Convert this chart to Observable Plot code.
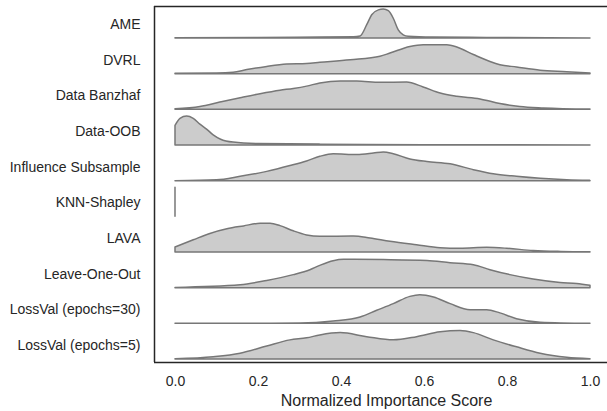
<!DOCTYPE html>
<html><head><meta charset="utf-8">
<script src="https://cdn.jsdelivr.net/npm/d3@7"></script>
<script src="https://cdn.jsdelivr.net/npm/@observablehq/plot@0.6"></script>
<style>body{margin:0;background:#fff} svg{display:block}</style>
</head><body><div id="chart"></div>
<script>
// Categories (top to bottom)
const names = ["AME","DVRL","Data Banzhaf","Data-OOB","Influence Subsample","KNN-Shapley","LAVA","Leave-One-Out","LossVal (epochs=30)","LossVal (epochs=5)"];
const xLabel = "Normalized Importance Score";

// Density curves (x = normalized importance score, d = density scaled to each ridge's max)
const ameX = [0, 0.2, 0.35, 0.43, 0.446, 0.462, 0.474, 0.49, 0.502, 0.514, 0.526, 0.538, 0.55, 0.562, 0.62, 0.75, 0.9, 1.0];
const ameD = [0.01, 0.02, 0.03, 0.04, 0.07, 0.46, 0.8, 0.97, 1.0, 0.94, 0.68, 0.28, 0.11, 0.06, 0.03, 0.02, 0.01, 0.0];

const dvrlX = [0, 0.1, 0.14, 0.173, 0.221, 0.269, 0.317, 0.349, 0.422, 0.494, 0.518, 0.566, 0.598, 0.655, 0.679, 0.719, 0.759, 0.783, 0.823, 0.88, 0.944, 1.0];
const dvrlD = [0.01, 0.02, 0.05, 0.14, 0.25, 0.33, 0.35, 0.39, 0.48, 0.60, 0.71, 0.94, 1.0, 1.0, 0.92, 0.66, 0.42, 0.31, 0.23, 0.12, 0.07, 0.02];

const banzX = [0, 0.06, 0.108, 0.157, 0.205, 0.253, 0.285, 0.317, 0.349, 0.398, 0.438, 0.494, 0.558, 0.598, 0.639, 0.679, 0.735, 0.783, 0.831, 0.888, 1.0];
const banzD = [0.02, 0.1, 0.25, 0.40, 0.54, 0.66, 0.72, 0.80, 0.91, 0.98, 0.98, 0.93, 0.94, 0.77, 0.56, 0.45, 0.36, 0.20, 0.10, 0.05, 0.01];

const oobX = [0, 0.012, 0.028, 0.044, 0.06, 0.076, 0.092, 0.11, 0.14, 0.2, 0.35, 0.6, 1.0];
const oobD = [0.68, 0.92, 1.0, 0.92, 0.72, 0.55, 0.35, 0.2, 0.1, 0.05, 0.03, 0.01, 0.0];

const inflX = [0, 0.1, 0.157, 0.221, 0.277, 0.317, 0.349, 0.381, 0.438, 0.478, 0.502, 0.526, 0.566, 0.607, 0.663, 0.719, 0.767, 0.823, 0.88, 0.944, 1.0];
const inflD = [0.0, 0.03, 0.15, 0.32, 0.52, 0.68, 0.84, 0.93, 0.90, 0.95, 0.99, 0.93, 0.75, 0.66, 0.58, 0.38, 0.24, 0.15, 0.08, 0.03, 0.01];

const knnX = [0, 0];
const knnD = [1, 1];

const lavaX = [0, 0.044, 0.084, 0.125, 0.165, 0.205, 0.229, 0.253, 0.285, 0.317, 0.349, 0.43, 0.47, 0.518, 0.582, 0.639, 0.687, 0.751, 0.799, 0.863, 0.93, 1.0];
const lavaD = [0.17, 0.42, 0.64, 0.80, 0.90, 0.99, 0.99, 0.91, 0.73, 0.59, 0.54, 0.55, 0.48, 0.37, 0.25, 0.15, 0.13, 0.16, 0.13, 0.05, 0.02, 0.01];

const looX = [0, 0.157, 0.221, 0.285, 0.325, 0.349, 0.381, 0.406, 0.502, 0.607, 0.663, 0.719, 0.759, 0.807, 0.863, 0.928, 0.968, 1.0];
const looD = [0.01, 0.1, 0.25, 0.45, 0.62, 0.77, 0.93, 0.98, 0.97, 0.94, 0.86, 0.79, 0.62, 0.45, 0.30, 0.18, 0.14, 0.08];

const lv30X = [0, 0.2, 0.301, 0.381, 0.446, 0.486, 0.526, 0.566, 0.590, 0.623, 0.663, 0.711, 0.751, 0.783, 0.823, 0.88, 1.0];
const lv30D = [0, 0.005, 0.01, 0.08, 0.22, 0.45, 0.68, 0.93, 0.99, 0.91, 0.68, 0.47, 0.47, 0.36, 0.16, 0.04, 0.0];

const lv5X = [0, 0.092, 0.157, 0.221, 0.277, 0.317, 0.349, 0.398, 0.462, 0.526, 0.582, 0.639, 0.687, 0.719, 0.767, 0.823, 0.88, 0.944, 1.0];
const lv5D = [0.01, 0.08, 0.2, 0.45, 0.66, 0.73, 0.83, 0.91, 0.77, 0.66, 0.77, 0.94, 0.98, 0.91, 0.66, 0.42, 0.2, 0.06, 0.01];

const xTicks = [0, 0.2, 0.4, 0.6, 0.8, 1.0];

const seriesX = [ameX, dvrlX, banzX, oobX, inflX, knnX, lavaX, looX, lv30X, lv5X];
const seriesD = [ameD, dvrlD, banzD, oobD, inflD, knnD, lavaD, looD, lv30D, lv5D];

// layout constants (row units)
const RIDGE = 0.813;
const LABEL_UP = 0.39;
const xDomain = [-0.0506, 1.041];
const yDomain = [-9.084, 0.897];

const rows = [];
names.forEach((name, i) => {
  seriesX[i].forEach((x, j) => rows.push({name, i, x, y1: -i, y2: -i + RIDGE * seriesD[i][j]}));
});
const labelPos = names.map((n, i) => -i + LABEL_UP);

const ink = "#262626";
const chart = Plot.plot({
  width: 607, height: 411,
  marginLeft: 154, marginRight: 0, marginTop: 6, marginBottom: 49,
  style: {fontFamily: "'Liberation Sans', Arial, sans-serif", fontSize: "14px", color: ink, background: "#fff"},
  x: {domain: xDomain, label: null},
  y: {domain: yDomain, label: null},
  marks: [
    Plot.areaY(rows.filter(r => r.name !== "KNN-Shapley"), {x: "x", y1: "y1", y2: "y2", z: "name", fill: "#cccccc", stroke: "#777777", strokeWidth: 1.5, curve: "monotone-x"}),
    Plot.areaY(rows.filter(r => r.name === "KNN-Shapley"), {x: "x", y1: "y1", y2: "y2", z: "name", fill: "#cccccc", stroke: "#777777", strokeWidth: 1.5, curve: "linear"}),
    Plot.axisY(labelPos, {tickSize: 0, tickPadding: 14, tickFormat: v => names[Math.round(LABEL_UP - v)], fontSize: 14, label: null, fill: ink}),
    Plot.axisX(xTicks, {tickSize: 0, tickPadding: 14, tickFormat: d3.format(".1f"), fontSize: 14, label: null, fill: ink}),
    Plot.text([xLabel], {text: d => d, frameAnchor: "bottom", lineAnchor: "top", dx: 5.5, dy: 32, fontSize: 16, fill: ink}),
    Plot.ruleX([xDomain[0]], {stroke: ink, strokeWidth: 1.5}),
    Plot.ruleY([yDomain[0], yDomain[1]], {stroke: ink, strokeWidth: 1.5})
  ]
});
document.getElementById("chart").appendChild(chart);
</script>
</body></html>
